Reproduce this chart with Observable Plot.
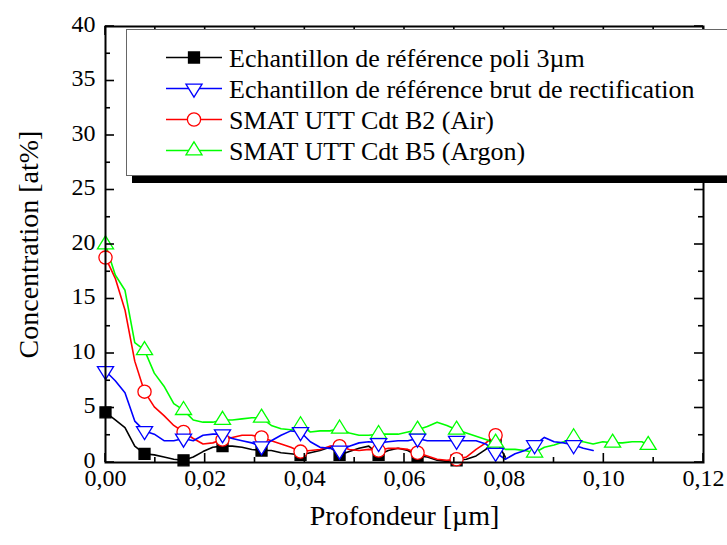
<!DOCTYPE html>
<html><head><meta charset="utf-8">
<script src="https://cdn.jsdelivr.net/npm/d3@7"></script>
<script src="https://cdn.jsdelivr.net/npm/@observablehq/plot@0.6"></script>
<style>body{margin:0;background:#fff;overflow:hidden} svg{overflow:visible}</style>
</head><body><div id="chart"></div>
<script>
// Depth (µm) sampling
const depth = [0, 0.00196, 0.00391, 0.00587, 0.00783, 0.00979, 0.01174, 0.01370, 0.01566, 0.01761,
  0.01957, 0.02153, 0.02348, 0.02544, 0.02740, 0.02936, 0.03131, 0.03327, 0.03523, 0.03718,
  0.03914, 0.04110, 0.04305, 0.04501, 0.04697, 0.04893, 0.05088, 0.05284, 0.05480, 0.05675,
  0.05871, 0.06067, 0.06262, 0.06458, 0.06654, 0.06850, 0.07045, 0.07241, 0.07437, 0.07632,
  0.07828, 0.08024, 0.08219, 0.08415, 0.08611, 0.08807, 0.09002, 0.09198, 0.09394, 0.09589,
  0.09785, 0.09981, 0.10176, 0.10372, 0.10568, 0.10763, 0.10890];

// Concentration [at%] per series
const poli = [4.6, 3.9, 3.2, 1.5, 0.8, 0.7, 0.5, 0.3, 0.2, 0.5, 1.0, 1.4, 1.5, 1.5, 1.4, 1.2, 1.1, 1.1, 0.9, 0.8,
  0.7, 0.9, 1.1, 1.4, 0.7, 1.0, 1.3, 1.5, 0.7, 1.1, 1.3, 1.1, 0.6, 0.5, 0.2, 0.1, 0.2, 0.3, 0.6, 1.2, 2.1, 0.5];
const brut = [8.4, 7.5, 6.4, 3.8, 2.9, 2.6, 2.0, 2.0, 2.2, 2.0, 2.5, 2.6, 2.6, 2.2, 2.0, 1.8, 1.5, 2.0, 2.5, 2.9,
  2.8, 1.9, 1.4, 1.3, 1.1, 1.5, 1.8, 1.9, 1.8, 1.9, 2.0, 2.0, 2.2, 2.0, 2.0, 2.0, 2.0, 2.0, 2.0, 1.7,
  0.9, 0.3, 0.8, 1.1, 1.6, 2.3, 1.9, 1.8, 1.6, 1.3, 1.1];
const air = [18.8, 16.9, 14.0, 9.3, 6.5, 5.1, 4.3, 3.4, 2.8, 2.2, 1.7, 1.8, 2.1, 2.3, 2.5, 2.5, 2.3, 2.0, 1.7, 1.4,
  1.0, 1.1, 1.2, 1.5, 1.5, 1.2, 1.1, 1.2, 1.1, 1.3, 1.3, 1.2, 0.9, 0.6, 0.3, 0.2, 0.3, 0.5, 1.2, 1.8, 2.5];
const argon = [20.0, 17.2, 15.8, 11.0, 10.3, 8.2, 7.0, 5.4, 4.8, 3.9, 3.7, 3.7, 3.9, 3.9, 4.0, 4.1, 4.1, 3.4, 3.1, 3.0,
  3.4, 2.8, 2.9, 2.9, 3.1, 2.7, 2.5, 2.5, 2.6, 2.6, 2.6, 2.8, 3.0, 3.3, 3.7, 3.4, 3.0, 2.7, 2.4, 2.1,
  1.8, 1.2, 1.2, 1.1, 0.9, 1.4, 1.6, 1.9, 2.3, 1.9, 1.7, 1.9, 1.8, 1.8, 1.9, 1.9, 1.6];

const seriesLabels = ["Echantillon de référence poli 3µm", "Echantillon de référence brut de rectification",
  "SMAT UTT Cdt B2 (Air)", "SMAT UTT Cdt B5 (Argon)"];
const seriesColors = ["#000000", "#0000ff", "#ff0000", "#00ff00"];
const xTicks = [0, 0.02, 0.04, 0.06, 0.08, 0.10, 0.12];
const xMinorTicks = [0.01, 0.03, 0.05, 0.07, 0.09, 0.11];
const yTicks = [0, 5, 10, 15, 20, 25, 30, 35, 40];
const yMinorTicks = [2.5, 7.5, 12.5, 17.5, 22.5, 27.5, 32.5, 37.5];
const xTitle = "Profondeur [µm]";
const yTitle = "Concentration [at%]";
const markerEvery = 4;

const triUp = {draw(c, size) {const r = Math.sqrt(size / Math.PI), hw = 1.15 * r, a = 0.62 * r;
  c.moveTo(0, -2 * a); c.lineTo(hw, a); c.lineTo(-hw, a); c.closePath();}};
const triDown = {draw(c, size) {const r = Math.sqrt(size / Math.PI), hw = 1.15 * r, a = 0.62 * r;
  c.moveTo(0, 2 * a); c.lineTo(hw, -a); c.lineTo(-hw, -a); c.closePath();}};
const symbols = ["square", triDown, "circle", triUp];
const symbolTypes = [d3.symbolSquare, triDown, d3.symbolCircle, triUp];
const radii = [6.2, 7, 6.6, 7];
const fills = ["#000000", "#ffffff", "#ffffff", "#ffffff"];

const seriesValues = [poli, brut, air, argon];
const rows = seriesValues.map((vals, s) => vals.map((v, i) => ({x: depth[i], y: v, s, i})));
const drawOrder = [0, 2, 3, 1];
const fmt = d => d.toFixed(2).replace(".", ",");
const FONT = "'Liberation Serif', 'Times New Roman', serif";

const marks = [];
for (const s of drawOrder) marks.push(Plot.line(rows[s], {x: "x", y: "y", stroke: seriesColors[s], strokeWidth: 1.6}));
for (const s of drawOrder) marks.push(Plot.dot(rows[s].filter(d => d.i % markerEvery === 0),
  {x: "x", y: "y", symbol: symbols[s], r: radii[s], stroke: seriesColors[s], fill: fills[s], strokeWidth: 1.3}));

const plot = Plot.plot({
  width: 727, height: 545,
  marginLeft: 105, marginRight: 24, marginTop: 26, marginBottom: 83,
  x: {domain: [0, 0.12]}, y: {domain: [0, 40]},
  style: {fontFamily: FONT, fontSize: "24px", color: "#000", background: "#fff", overflow: "visible"},
  marks: [
    ...marks,
    Plot.frame({stroke: "#000", strokeWidth: 2}),
    Plot.axisX(xTicks, {tickSize: 0, tickPadding: 6, tickFormat: fmt, fontSize: 24, label: null}),
    Plot.axisY(yTicks, {tickSize: 0, tickPadding: 10, dy: -2.5, fontSize: 24, label: null}),
    Plot.text([xTitle], {frameAnchor: "bottom", dy: 62, fontSize: 28, textAnchor: "middle"}),
    Plot.text([yTitle], {frameAnchor: "left", dx: -76, rotate: -90, fontSize: 28, textAnchor: "middle"})
  ]
});

const sx = plot.scale("x"), sy = plot.scale("y");
const X0 = sx.apply(0), X1 = sx.apply(0.12), Y0 = sy.apply(0), Y1 = sy.apply(40);
const svg = d3.select(plot);
const tg = svg.append("g").attr("stroke", "#000").attr("stroke-width", 1.6);
const tick = (x1, y1, x2, y2) => tg.append("line").attr("x1", x1).attr("y1", y1).attr("x2", x2).attr("y2", y2);
for (const [vals, len] of [[xTicks, 9], [xMinorTicks, 5]]) for (const v of vals) {
  const x = sx.apply(v); tick(x, Y0, x, Y0 - len); tick(x, Y1, x, Y1 + len);
}
for (const [vals, len] of [[yTicks, 9], [yMinorTicks, 5]]) for (const v of vals) {
  const y = sy.apply(v); tick(X0, y, X0 + len, y); tick(X1, y, X1 - len, y);
}

// Legend
const lg = svg.append("g");
lg.append("rect").attr("x", 132).attr("y", 36).attr("width", 700).attr("height", 147).attr("fill", "#000");
lg.append("rect").attr("x", 126.5).attr("y", 29.5).attr("width", 700).attr("height", 146)
  .attr("fill", "#fff").attr("stroke", "#666").attr("stroke-width", 1);
seriesLabels.forEach((label, s) => {
  const y = 57.5 + s * 31;
  lg.append("line").attr("x1", 166).attr("x2", 222).attr("y1", y).attr("y2", y)
    .attr("stroke", seriesColors[s]).attr("stroke-width", 1.6);
  lg.append("path").attr("transform", `translate(194,${y})`)
    .attr("d", d3.symbol(symbolTypes[s], radii[s] * radii[s] * Math.PI)())
    .attr("fill", fills[s]).attr("stroke", seriesColors[s]).attr("stroke-width", 1.3);
  lg.append("text").attr("x", 229).attr("y", y).attr("dy", "0.35em").attr("text-anchor", "start")
    .attr("font-family", FONT).attr("font-size", 26).attr("fill", "#000").text(label);
});

document.getElementById("chart").appendChild(plot);
</script></body></html>
